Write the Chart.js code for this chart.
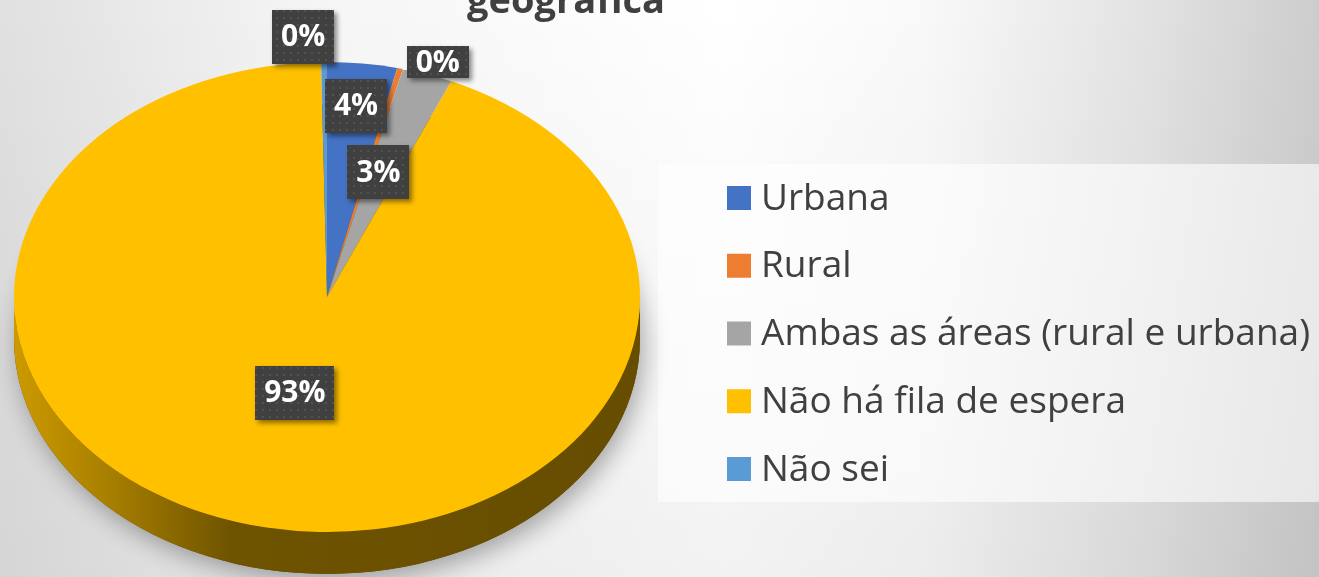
<!DOCTYPE html>
<html>
<head>
<meta charset="utf-8">
<script src="https://cdn.jsdelivr.net/npm/chart.js@4/dist/chart.umd.min.js"></script>
<style>
html, body { margin: 0; padding: 0; background: #fff; }
canvas { display: block; }
</style>
</head>
<body>
<canvas id="grafico" width="1319" height="577"></canvas>
<script>
// dados
const categorias = ['Urbana', 'Rural', 'Ambas as áreas (rural e urbana)', 'Não há fila de espera', 'Não sei'];
const percentuais = [3.6, 0.3, 2.6, 93.2, 0.3];
const cores = ['#4472C4', '#ED7D31', '#A5A5A5', '#FFC000', '#5B9BD5'];
const titulo = 'geográfica';

// aparência (efeito 3D, rótulos)
const ESC_X = 313 / 235;   // achatamento da pizza
const PROF = 42;           // espessura da lateral
const posRotulos = [
  { f: 0.82, da: 0, h: 54 },
  { f: 1.06, da: 6, h: 32 },
  { f: 0.555, da: -1.5, h: 54 },
  { f: 0.42, da: 3, h: 54 },
  { f: 1.11, da: -3.4, h: 54 }
];

function escurecer(hex, k) {
  const n = parseInt(hex.slice(1), 16);
  const r = Math.round(((n >> 16) & 255) * k);
  const g = Math.round(((n >> 8) & 255) * k);
  const b = Math.round((n & 255) * k);
  return 'rgb(' + r + ',' + g + ',' + b + ')';
}

// padrão pontilhado dos rótulos
const pat = document.createElement('canvas');
pat.width = 7; pat.height = 7;
const pctx = pat.getContext('2d');
pctx.fillStyle = '#404040';
pctx.fillRect(0, 0, 7, 7);
pctx.fillStyle = '#525252';
pctx.fillRect(3, 3, 2, 2);

const fundo = {
  id: 'fundo',
  beforeDraw(chart) {
    const ctx = chart.ctx, w = chart.width, h = chart.height;
    ctx.save();
    const g = ctx.createLinearGradient(0, 0, w, 0);
    g.addColorStop(0, '#e0e0e0');
    g.addColorStop(0.25, '#f6f6f6');
    g.addColorStop(0.55, '#ffffff');
    g.addColorStop(0.7, '#f9f9f9');
    g.addColorStop(0.86, '#e4e4e4');
    g.addColorStop(1, '#cdcdcd');
    ctx.fillStyle = g;
    ctx.fillRect(0, 0, w, h);
    const gv = ctx.createLinearGradient(0, 0, 0, h);
    gv.addColorStop(0, 'rgba(0,0,0,0)');
    gv.addColorStop(1, 'rgba(0,0,0,0.05)');
    ctx.fillStyle = gv;
    ctx.fillRect(0, 0, w, h);
    // caixa da legenda
    ctx.fillStyle = 'rgba(255,255,255,0.6)';
    ctx.fillRect(658, 164, w - 658, 338);
    ctx.restore();
  },
  afterDraw(chart) {
    const ctx = chart.ctx;
    ctx.save();
    // título (cortado no topo)
    ctx.fillStyle = '#404040';
    ctx.font = 'bold 38px "Open Sans"';
    ctx.textAlign = 'center';
    ctx.textBaseline = 'alphabetic';
    ctx.fillText(titulo, 566, 13);
    // legenda
    ctx.font = '37px "Open Sans"';
    ctx.textAlign = 'left';
    ctx.textBaseline = 'middle';
    chart.data.labels.forEach((lab, i) => {
      const y = 198 + i * 67.75;
      ctx.fillStyle = chart.data.datasets[0].backgroundColor[i];
      ctx.fillRect(727, y - 12, 24, 24);
      ctx.fillStyle = '#404040';
      ctx.fillText(lab, 761, y + 1);
    });
    ctx.restore();
  }
};

const pizza3d = {
  id: 'pizza3d',
  beforeDatasetsDraw(chart) {
    const ctx = chart.ctx;
    const meta = chart.getDatasetMeta(0);
    const a = meta.data[0];
    const cx = a.x, cy = a.y, R = a.outerRadius;
    ctx.save();
    ctx.translate(cx, 0);
    ctx.scale(ESC_X, 1);
    ctx.translate(-cx, 0);
    // sombra
    ctx.save();
    ctx.shadowColor = 'rgba(0,0,0,0.32)';
    ctx.shadowBlur = 24;
    ctx.shadowOffsetX = 4;
    ctx.shadowOffsetY = 8;
    ctx.beginPath();
    ctx.arc(cx, cy + PROF, R, 0, Math.PI * 2);
    ctx.fillStyle = '#6b4e00';
    ctx.fill();
    ctx.restore();
    // lateral
    meta.data.forEach((arc, i) => {
      const a0 = Math.max(arc.startAngle, 0);
      const a1 = Math.min(arc.endAngle, Math.PI);
      if (a1 <= a0) return;
      const cor = chart.data.datasets[0].backgroundColor[i];
      const g = ctx.createLinearGradient(cx - R, 0, cx + R, 0);
      g.addColorStop(0, escurecer(cor, 0.8));
      g.addColorStop(0.15, escurecer(cor, 0.66));
      g.addColorStop(0.35, escurecer(cor, 0.43));
      g.addColorStop(1, escurecer(cor, 0.4));
      ctx.beginPath();
      ctx.arc(cx, cy, R, a0, a1);
      ctx.arc(cx, cy + PROF, R, a1, a0, true);
      ctx.closePath();
      ctx.fillStyle = g;
      ctx.fill();
    });
    // a pizza em si é desenhada pelo Chart.js com esta transformação
  },
  afterDatasetsDraw(chart) {
    const ctx = chart.ctx;
    ctx.restore();
    const meta = chart.getDatasetMeta(0);
    const vals = chart.data.datasets[0].data;
    ctx.save();
    ctx.font = 'bold 30px "Open Sans"';
    ctx.textAlign = 'center';
    ctx.textBaseline = 'middle';
    meta.data.forEach((arc, i) => {
      const p = posRotulos[i];
      const ang = (arc.startAngle + arc.endAngle) / 2 + p.da * Math.PI / 180;
      const r = p.f * arc.outerRadius;
      const x = arc.x + ESC_X * r * Math.cos(ang);
      const y = arc.y + r * Math.sin(ang);
      const txt = Math.round(vals[i]) + '%';
      const w = ctx.measureText(txt).width + 18;
      const h = p.h;
      ctx.save();
      ctx.shadowColor = 'rgba(0,0,0,0.45)';
      ctx.shadowBlur = 5;
      ctx.shadowOffsetX = 3;
      ctx.shadowOffsetY = 3;
      ctx.fillStyle = ctx.createPattern(pat, 'repeat');
      ctx.fillRect(Math.round(x - w / 2), Math.round(y - h / 2), Math.round(w), h);
      ctx.restore();
      ctx.fillStyle = '#ffffff';
      ctx.fillText(txt, x, y + 1);
    });
    ctx.restore();
  }
};

new Chart(document.getElementById('grafico'), {
  type: 'pie',
  data: {
    labels: categorias,
    datasets: [{
      data: percentuais,
      backgroundColor: cores,
      borderWidth: 0,
      clip: false
    }]
  },
  options: {
    responsive: false,
    devicePixelRatio: 1,
    animation: false,
    layout: { padding: { left: 92, right: 757, top: 62, bottom: 45 } },
    plugins: {
      legend: { display: false },
      tooltip: { enabled: false },
      title: { display: false }
    }
  },
  plugins: [fundo, pizza3d]
});
</script>
</body>
</html>
